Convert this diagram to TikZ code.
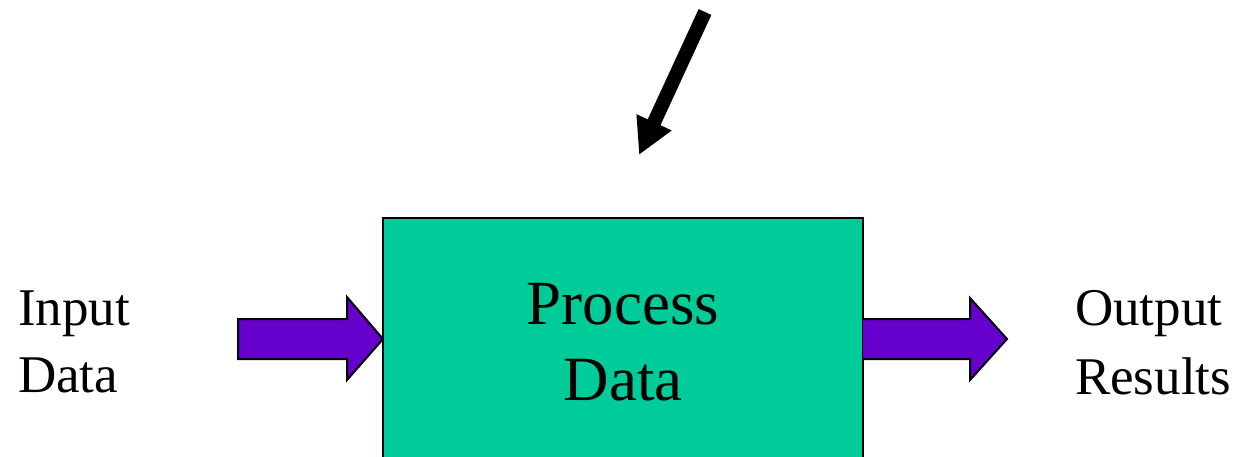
\documentclass[tikz,border=0pt]{standalone}
\usepackage{fontspec}
\setmainfont{Liberation Serif}
\usetikzlibrary{arrows.meta}
\definecolor{procfill}{HTML}{00CC99}
\definecolor{flowpurple}{HTML}{6600CC}
\tikzset{
  lbl/.style={inner sep=0pt, outer sep=0pt, font=\fontsize{53}{69}\selectfont},
  proclbl/.style={inner sep=0pt, outer sep=0pt, font=\fontsize{63}{76}\selectfont},
  procbox/.style={draw=black, line width=2pt, fill=procfill, inner sep=0pt, outer sep=0pt},
  blockarrow/.style={draw=black, line width=2pt, fill=flowpurple, line join=miter},
  ctrlarrow/.style={line width=14pt, -{Triangle[length=36pt,width=36pt]}}
}
\begin{document}
\begin{tikzpicture}[x=1pt,y=-1pt]
\useasboundingbox (0,0) rectangle (1240,456);
\begin{scope}
\clip (0,0) rectangle (1240,456);
\node[procbox, minimum width=480pt, minimum height=300pt, anchor=north west] (proc) at (383,218) {};
\end{scope}
\node[proclbl, anchor=base] (p1) at (623,324) {Process};
\node[proclbl, anchor=base] (p2) at (623,400) {Data};
% input block arrow
\draw[blockarrow] (238,319) -- (347,319) -- (347,297) -- (proc.north west |- 0,339) -- (347,380) -- (347,359) -- (238,359) -- cycle;
% output block arrow
\draw[blockarrow] (proc.north east |- 0,319) -- (970,319) -- (970,298) -- (1007,339) -- (970,380) -- (970,359) -- (proc.north east |- 0,359);
\node[lbl, anchor=base west] (in1) at (18,325) {Input};
\node[lbl, anchor=base west] (in2) at (18,392) {Data};
\node[lbl, anchor=base west] (out1) at (1075,325) {Output};
\node[lbl, anchor=base west] (out2) at (1075,394) {Results};
\coordinate (ctrlstart) at (705,12);
\coordinate (ctrlend) at (639,155);
\draw[ctrlarrow] (ctrlstart) -- (ctrlend);
\end{tikzpicture}
\end{document}
